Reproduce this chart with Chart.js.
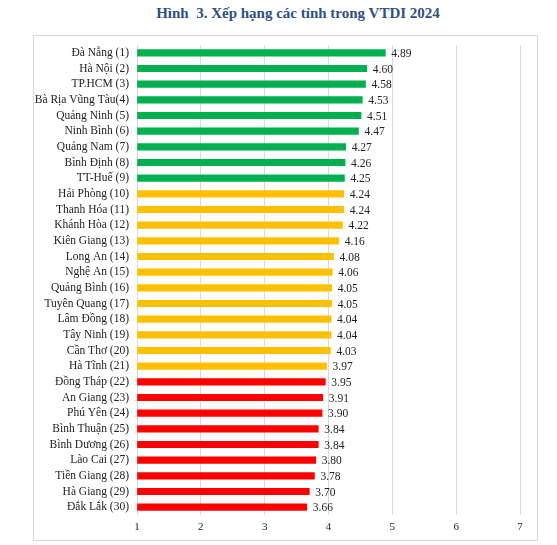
<!DOCTYPE html>
<html>
<head>
<meta charset="utf-8">
<script src="https://cdn.jsdelivr.net/npm/chart.js@4.4.1/dist/chart.umd.min.js"></script>
<style>
  html, body { margin: 0; padding: 0; background: #fff; }
  body { width: 557px; height: 545px; position: relative; overflow: hidden; }
  #title {
    position: absolute; left: 0; width: 596px; top: 5px;
    text-align: center; font: bold 15px "Liberation Serif", serif; color: #2f4f86;
  }
  #frame {
    position: absolute; left: 33px; top: 35px; width: 503px; height: 504px;
    border: 1px solid #d9d9d9;
  }
  #chart { display: block; }
</style>
</head>
<body>
<div id="title">Hình&nbsp; 3. Xếp hạng các tỉnh trong VTDI 2024</div>
<div id="frame"><canvas id="chart" width="503" height="504"></canvas></div>
<script>
// provinces ranked in VTDI 2024, top to bottom
const provinces = [
  'Đà Nẵng (1)', 'Hà Nội (2)', 'TP.HCM (3)', 'Bà Rịa Vũng Tàu(4)', 'Quảng Ninh (5)',
  'Ninh Bình (6)', 'Quảng Nam (7)', 'Bình Định (8)', 'TT-Huế (9)', 'Hải Phòng (10)',
  'Thanh Hóa (11)', 'Khánh Hòa (12)', 'Kiên Giang (13)', 'Long An (14)', 'Nghệ An (15)',
  'Quảng Bình (16)', 'Tuyên Quang (17)', 'Lâm Đồng (18)', 'Tây Ninh (19)', 'Cần Thơ (20)',
  'Hà Tĩnh (21)', 'Đồng Tháp (22)', 'An Giang (23)', 'Phú Yên (24)', 'Bình Thuận (25)',
  'Bình Dương (26)', 'Lào Cai (27)', 'Tiền Giang (28)', 'Hà Giang (29)', 'Đắk Lắk (30)'
];
const scores = [
  4.89, 4.60, 4.58, 4.53, 4.51, 4.47, 4.27, 4.26, 4.25, 4.24,
  4.24, 4.22, 4.16, 4.08, 4.06, 4.05, 4.05, 4.04, 4.04, 4.03,
  3.97, 3.95, 3.91, 3.90, 3.84, 3.84, 3.80, 3.78, 3.70, 3.66
];
// group of each province: 1 = high, 2 = middle, 3 = low
const tiers = [
  1, 1, 1, 1, 1, 1, 1, 1, 1, 2,
  2, 2, 2, 2, 2, 2, 2, 2, 2, 2,
  2, 3, 3, 3, 3, 3, 3, 3, 3, 3
];
const axisMin = 1;
const axisMax = 7;

const tierColor = {1: '#00b050', 2: '#ffc000', 3: '#ff0000'};
const serif = '"Liberation Serif", "Times New Roman", serif';

//value next to each bar end
const valueLabels = {
  id: 'valueLabels',
  afterDatasetsDraw(chart) {
    const ctx = chart.ctx;
    const meta = chart.getDatasetMeta(0);
    ctx.save();
    ctx.font = '11.5px ' + serif;
    ctx.fillStyle = '#222';
    ctx.textAlign = 'left';
    ctx.textBaseline = 'middle';
    meta.data.forEach((bar, i) => {
      ctx.fillText(scores[i].toFixed(2), bar.x + 6, bar.y + 1);
    });
    ctx.restore();
  }
};

new Chart(document.getElementById('chart'), {
  type: 'bar',
  data: {
    labels: provinces,
    datasets: [{
      data: scores,
      base: axisMin,
      backgroundColor: tiers.map(t => tierColor[t]),
      barThickness: 6.5
    }]
  },
  options: {
    indexAxis: 'y',
    responsive: false,
    animation: false,
    layout: {padding: {left: 0, right: 17, top: 9, bottom: 0}},
    plugins: {legend: {display: false}, tooltip: {enabled: false}},
    scales: {
      x: {
        min: axisMin,
        max: axisMax,
        ticks: {stepSize: 1, color: '#222', font: {family: serif, size: 11}, padding: 6},
        grid: {color: '#d9d9d9', drawTicks: false},
        border: {display: false},
        afterFit(scale) { scale.height = 25; }
      },
      y: {
        ticks: {color: '#222', font: {family: serif, size: 11.5}, padding: 0, autoSkip: false},
        grid: {display: false},
        border: {display: false},
        afterFit(scale) { scale.width = 103; }
      }
    }
  },
  plugins: [valueLabels]
});
</script>
</body>
</html>
